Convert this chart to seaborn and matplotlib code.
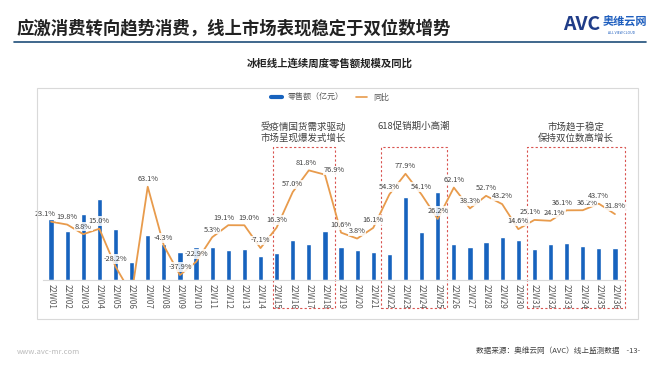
import pandas as pd
import numpy as np
import seaborn as sns
import matplotlib.pyplot as plt
from matplotlib.patches import Rectangle
from matplotlib.lines import Line2D

weeks = ['22W%02d' % i for i in range(1, 37)]
sales = [6.1, 4.9, 6.6, 8.1, 5.1, 1.8, 4.5, 3.6, 2.8, 3.3, 3.3, 3.0,
         3.1, 2.4, 2.7, 4.0, 3.6, 4.9, 3.3, 3.0, 2.8, 2.6, 8.3, 4.8,
         8.8, 3.6, 3.3, 3.8, 4.3, 4.0, 3.1, 3.6, 3.7, 3.4, 3.2, 3.2]
yoy = [23.1, 19.8, 8.8, 15.0, -28.2, -60.0, 63.1, -4.3, -37.9, -22.9, 5.3, 19.1,
       19.0, -7.1, 16.3, 57.0, 81.8, 76.9, 10.6, 3.8, 16.1, 54.3, 77.9, 54.1,
       26.2, 62.1, 38.3, 52.7, 43.2, 14.6, 25.1, 24.1, 36.1, 36.2, 43.7, 31.8]
show_label = [True] * 36
show_label[5] = False

boxes = [(13.75, 17.6), (20.45, 24.6), (29.55, 35.6)]
notes = ['受疫情国货需求驱动\n市场呈现爆发式增长', '618促销期小高潮', '市场趋于稳定\n保持双位数高增长']

df = pd.DataFrame({'week': weeks, 'sales': sales, 'yoy': yoy, 'pos': np.arange(36)})

sns.set_style('white')
plt.rcParams['font.family'] = ['Noto Sans CJK SC', 'DejaVu Sans']

bar_c = '#1763BE'
line_c = '#E89B4C'

fig = plt.figure(figsize=(6.6, 3.72), dpi=100)
ax = fig.add_axes([43 / 660, 1 - 280 / 372, 580 / 660, 130 / 372])

sns.barplot(data=df, x='week', y='sales', color=bar_c, width=0.32,
            saturation=1, ax=ax)
ax.set_xlim(-0.5, 35.5)
ax.set_ylim(0, 13)
ax.set_xlabel('')
ax.set_ylabel('')
ax.set_yticks([])
ax.tick_params(axis='x', length=0, pad=3, labelsize=5.8, labelcolor='#595959')
for t in ax.get_xticklabels():
    t.set_rotation(270)
for s in ['top', 'left', 'right']:
    ax.spines[s].set_visible(False)
ax.spines['bottom'].set_color('#D9D9D9')
ax.spines['bottom'].set_linewidth(0.8)

ax2 = ax.twinx()
sns.lineplot(data=df, x='pos', y='yoy', color=line_c, linewidth=1.3, ax=ax2)
ax2.set_ylim(-43.6, 105.1)
ax2.set_xlim(-0.5, 35.5)
ax2.set_yticks([])
ax2.set_ylabel('')
ax2.set_xlabel('')
for s in ax2.spines.values():
    s.set_visible(False)

# small nudges (points) for crowded labels
nudge = {0: (-4, 5.5), 11: (-3, 5.5), 12: (3, 5.5), 16: (-2, 5.5), 17: (7, 3),
         30: (-3, 5.5), 31: (3, 5.5), 32: (-3, 5.5), 33: (3, 5.5)}
for i, v in enumerate(yoy):
    if show_label[i]:
        ax2.annotate(f'{v:.1f}%', (i, v), xytext=nudge.get(i, (0, 5.5)), textcoords='offset points',
                     ha='center', va='center', fontsize=5.3, color='#404040',
                     bbox=dict(boxstyle='square,pad=0.12', fc='white', ec='none', alpha=0.85))

tr = ax.get_xaxis_transform()
for (x0, x1), note in zip(boxes, notes):
    ax.add_patch(Rectangle((x0, -0.215), x1 - x0, 1.238, transform=tr, fill=False,
                           ec='#D9534F', lw=0.8, ls=(0, (2, 2)), clip_on=False))
    ny = 1.135 if '\n' in note else 1.185
    ax.text((x0 + x1) / 2, ny, note, transform=tr, ha='center', va='center',
            fontsize=6.8, color='#404040', linespacing=1.3)

# chart frame
fig.patches.append(Rectangle((37 / 660, 1 - 319 / 372), 601 / 660, 231 / 372,
                             transform=fig.transFigure, fill=False, ec='#D9D9D9', lw=0.8))

handles = [Line2D([], [], color=bar_c, lw=3), Line2D([], [], color=line_c, lw=1.2)]
fig.legend(handles, ['零售额（亿元）', '同比'], loc='center', bbox_to_anchor=(330 / 660, 1 - 97 / 372),
           ncol=2, frameon=False, fontsize=5.8, handlelength=1.3, columnspacing=1.5,
           labelcolor='#595959')

# header
fig.text(17 / 660, 1 - 28 / 372, '应激消费转向趋势消费，线上市场表现稳定于双位数增势',
         fontsize=12.5, fontweight='bold', color='#222222', va='center')
fig.add_artist(Line2D([14 / 660, 646 / 660], [1 - 42 / 372] * 2, color='#1F4E79', lw=1.2))
fig.text(600 / 660, 1 - 25 / 372, 'AVC', fontsize=14, fontweight='bold', fontstyle='italic',
         color='#1F3C88', ha='right', va='center')
fig.text(603 / 660, 1 - 22 / 372, '奥维云网', fontsize=8, fontweight='bold', color='#1F5FBF', va='center')
fig.text(622 / 660, 1 - 33 / 372, 'ALL VIEW CLOUD', fontsize=2.5, color='#1F5FBF', ha='center', va='center')
fig.text(330 / 660, 1 - 63 / 372, '冰柜线上连续周度零售额规模及同比', fontsize=7.5,
         fontweight='bold', color='#222222', ha='center', va='center')

# footer
fig.text(17 / 660, 1 - 352 / 372, 'www.avc-mr.com', fontsize=5.5, color='#BBBBBB', va='center')
fig.text(640 / 660, 1 - 351 / 372, '数据来源：奥维云网（AVC）线上监测数据    -13-', fontsize=5.5,
         color='#404040', ha='right', va='center')

fig.savefig('out.png', dpi=100)
